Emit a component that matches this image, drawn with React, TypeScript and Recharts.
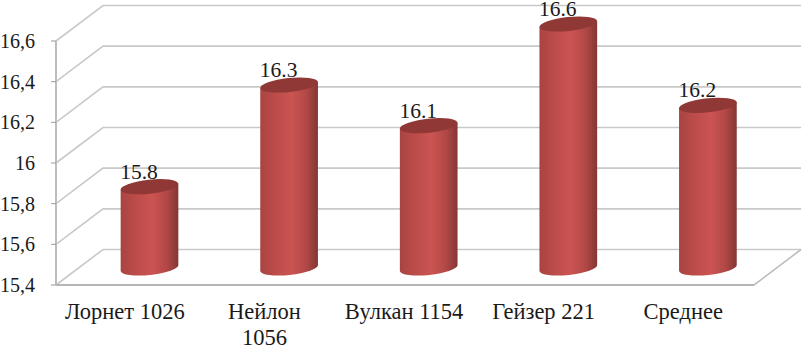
import { BarChart, Bar, XAxis, YAxis, CartesianGrid, LabelList } from "recharts"

const categories = ["Лорнет 1026", "Нейлон\n1056", "Вулкан 1154", "Гейзер 221", "Среднее"]
const values = [15.8, 16.3, 16.1, 16.6, 16.2]
const yTicks = [15.4, 15.6, 15.8, 16, 16.2, 16.4, 16.6]

const chartData = categories.map((name, i) => ({ name, value: values[i] }))

// fake 3d: the wall sits behind the axis plane, the bars halfway between
const DEPTH_X = 47
const DEPTH_Y = 35.5
const BAR_DX = 23.5
const BAR_DY = -17
const CHART_W = 802
const CHART_H = 347
const AXIS_H = 62
const MARGIN = { top: 41, right: 48, bottom: 0, left: 0 }
const TILT = 6
const RY = 7
const FONT = "'Liberation Serif', serif"

function WallLine(props: any) {
    const { x1, x2, y1 } = props
    const isFloor = y1 >= CHART_H - AXIS_H - 1
    return (
        <g fill="none" stroke="#c9c9c9" strokeWidth={1.6}>
            <polyline points={`${x1},${y1} ${x1 + DEPTH_X},${y1 - DEPTH_Y} ${x2 + DEPTH_X},${y1 - DEPTH_Y}`} />
            {isFloor && <line x1={x2} y1={y1} x2={x2 + DEPTH_X} y2={y1 - DEPTH_Y} stroke="#bdbdbd" />}
        </g>
    )
}

function Cylinder(props: any) {
    const { x, y, width, height } = props
    const rx = width / 2
    const cx = x + rx + BAR_DX
    const topY = y + BAR_DY
    const bottomY = y + height + BAR_DY
    const a = (TILT * Math.PI) / 180
    const ex = rx * Math.cos(a)
    const ey = rx * Math.sin(a)
    const body = `M${cx - ex},${topY + ey} L${cx - ex},${bottomY + ey} A${rx},${RY} ${-TILT} 0 0 ${cx + ex},${bottomY - ey} L${cx + ex},${topY - ey} Z`
    return (
        <g>
            <path d={body} fill="url(#cylinderFill)" />
            <ellipse cx={cx} cy={topY} rx={rx} ry={RY} fill="#8f3836" transform={`rotate(${-TILT} ${cx} ${topY})`} />
        </g>
    )
}

function ValueLabel(props: any) {
    const { x, y, width, value } = props
    return (
        <text x={x + width / 2 + 13} y={y + BAR_DY - 8} textAnchor="middle" fontFamily={FONT} fontSize={21.5} fill="#1a1a1a">
            {value}
        </text>
    )
}

function CategoryTick(props: any) {
    const { x, y, payload } = props
    const lines = String(payload.value).split("\n")
    return (
        <text x={x - 1} y={y} textAnchor="middle" fontFamily={FONT} fontSize={22.5} fill="#1a1a1a">
            {lines.map((line, i) => (
                <tspan key={line} x={x - 1} dy={i === 0 ? 0 : 26}>{line}</tspan>
            ))}
        </text>
    )
}

export default function App() {
    return (
        <div style={{ position: "absolute", left: 0, top: 0, width: CHART_W, height: CHART_H, overflow: "hidden", background: "#fff" }}>
            <BarChart width={CHART_W} height={CHART_H} data={chartData} margin={MARGIN} style={{ overflow: "hidden" }}>
                <defs>
                    <linearGradient id="cylinderFill" x1="0" y1="0" x2="1" y2="0">
                        <stop offset="0" stopColor="#a84442" />
                        <stop offset="0.2" stopColor="#b84a48" />
                        <stop offset="0.55" stopColor="#cb5452" />
                        <stop offset="0.8" stopColor="#b14846" />
                        <stop offset="1" stopColor="#843634" />
                    </linearGradient>
                </defs>
                <CartesianGrid vertical={false} horizontal={(p: any) => <WallLine key={p.y1} {...p} />} />
                <XAxis
                    dataKey="name"
                    interval={0}
                    tickLine={false}
                    axisLine={{ stroke: "#b5b5b5", strokeWidth: 2 }}
                    tick={<CategoryTick />}
                    tickMargin={28}
                    height={AXIS_H}
                />
                <YAxis
                    width={56}
                    domain={[15.4, 16.6]}
                    ticks={yTicks}
                    interval={0}
                    tickSize={5}
                    tickMargin={16}
                    tickFormatter={(v: number) => String(v).replace(".", ",")}
                    axisLine={{ stroke: "#bdbdbd", strokeWidth: 2 }}
                    tickLine={{ stroke: "#9a9a9a" }}
                    tick={{ fontFamily: FONT, fontSize: 20, fill: "#1a1a1a" }}
                />
                <Bar dataKey="value" barSize={58} shape={<Cylinder />} isAnimationActive={false}>
                    <LabelList dataKey="value" content={<ValueLabel />} />
                </Bar>
            </BarChart>
        </div>
    )
}
